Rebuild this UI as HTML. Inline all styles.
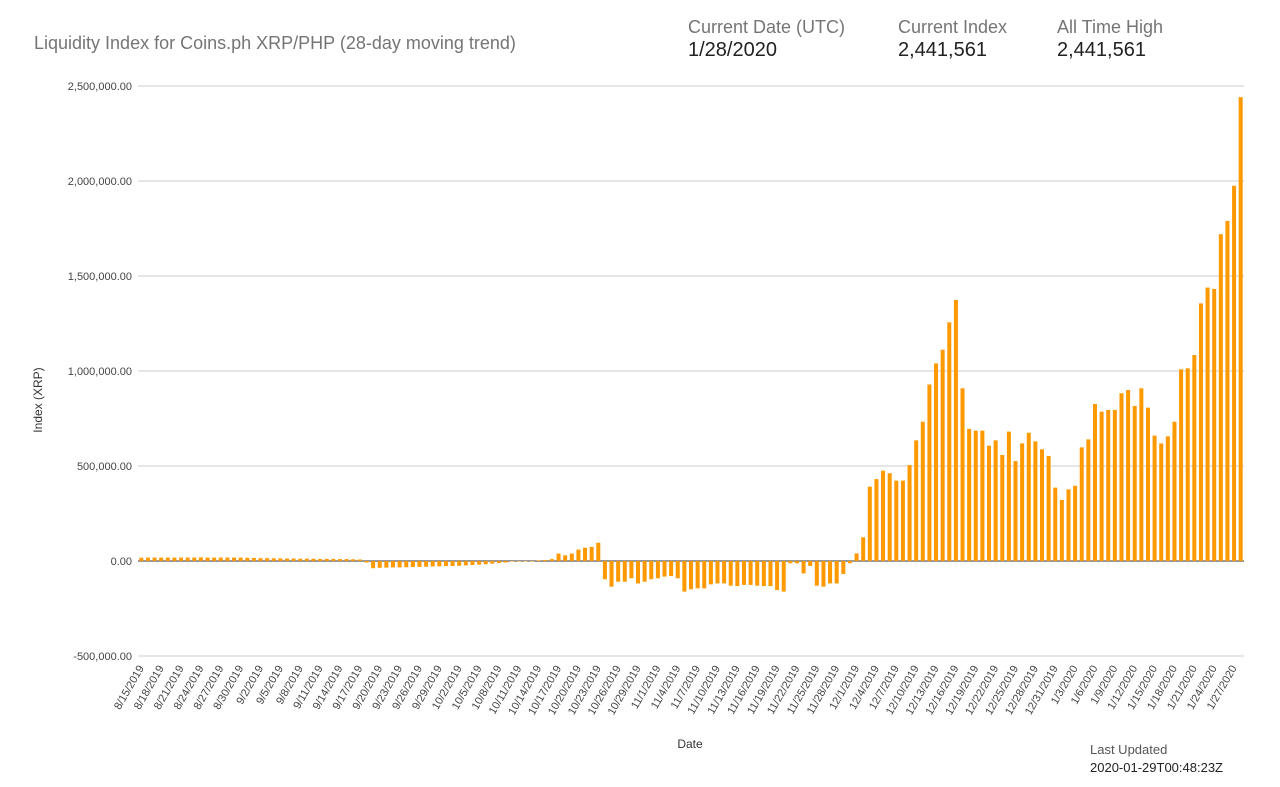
<!DOCTYPE html>
<html><head><meta charset="utf-8"><style>
body{margin:0;background:#fff;font-family:"Liberation Sans",Roboto,sans-serif;}
.t{position:absolute;white-space:nowrap}
</style></head><body>
<div style="position:relative;width:1280px;height:787px;overflow:hidden">
<div class="t" style="left:34px;top:33px;font-size:18px;color:#757575">Liquidity Index for Coins.ph XRP/PHP (28-day moving trend)</div>
<div class="t" style="left:688px;top:17px;font-size:18px;color:#757575">Current Date (UTC)</div>
<div class="t" style="left:688px;top:39px;font-size:20px;color:#222">1/28/2020</div>
<div class="t" style="left:898px;top:17px;font-size:18px;color:#757575">Current Index</div>
<div class="t" style="left:898px;top:39px;font-size:20px;color:#222">2,441,561</div>
<div class="t" style="left:1057px;top:17px;font-size:18px;color:#757575">All Time High</div>
<div class="t" style="left:1057px;top:39px;font-size:20px;color:#222">2,441,561</div>
<div class="t" style="left:1090px;top:742px;font-size:13px;color:#555">Last Updated</div>
<div class="t" style="left:1090px;top:760px;font-size:13px;color:#222">2020-01-29T00:48:23Z</div>
<svg id="chart" width="1280" height="787" style="position:absolute;left:0;top:0"></svg>
</div>
<script>
const yTicks=[-500000,0,500000,1000000,1500000,2000000,2500000];
const posK=[17,18,18,18,18,18,18,18,18,19,18,18,18,18,18,18,17,16,15,15,14,14,13,13,12,12,12,11,11,11,10,10,9,8];
const negK=[-8,-38,-36,-35,-34,-34,-33,-32,-31,-30,-29,-28,-27,-26,-25,-23,-21,-19,-17,-14,-11,-8];
const gapK=[0,0,0,0];
const octK=[3.5,5,10,39,30,39,60,70,74,96];
const novK=[-96,-135,-109,-109,-91,-118,-109,-96,-91,-82,-79,-91,-161,-149,-144,-144,-123,-118,-118,-130,-132,-126,-126,-130,-132,-132,-153,-161,-12,-12,-65,-26,-130,-135,-118,-118,-68,-12];
const decJanK=[40,125,391,431,475,462,423,423,505,635,733,929,1040,1112,1256,1374,909,695,686,686,607,635,558,681,526,619,675,630,588,553,386,321,377,396,598,640,826,786,795,795,883,900,816,909,807,660,619,656,733,1009,1014,1084,1356,1439,1432,1720,1790,1975,2441.561];
const values=[].concat(posK,negK,gapK,octK,novK,decJanK).map(v=>v*1000);
const startDate=new Date(2019,7,15);
const dates=values.map((v,i)=>{const d=new Date(startDate);d.setDate(d.getDate()+i);return (d.getMonth()+1)+'/'+d.getDate()+'/'+d.getFullYear();});

const svg=document.getElementById('chart');const NS='http://www.w3.org/2000/svg';
const X0=138,X1=1244,Y0=561,PX=95/500000;
const y=v=>Y0-v*PX;
const step=(X1-X0)/values.length;
const x=i=>X0+step*(i+0.5);
function mk(t,a,txt){const e=document.createElementNS(NS,t);for(const k in a)e.setAttribute(k,a[k]);if(txt!==undefined)e.textContent=txt;svg.appendChild(e);return e;}
yTicks.forEach(t=>{
 const g=mk('line',{x1:X0,x2:X1,y1:y(t),y2:y(t),stroke:t===0?'#333':'#ccc','stroke-width':1});
 
 
 const l=mk('text',{x:132,y:y(t)+4,'text-anchor':'end','font-size':11,fill:'#444','font-family':'Liberation Sans, sans-serif'},t.toLocaleString('en-US',{minimumFractionDigits:2}));
 
 
});
values.forEach((v,i)=>{
 const top=Math.min(y(v),Y0),h=Math.abs(y(v)-Y0);
 const b=mk('rect',{x:x(i)-2,y:top,width:4,height:Math.max(h,0.5),fill:'#ff9900'});
 
 
});
dates.forEach((d,i)=>{ if(i%3) return;
 const tx=x(i)+3,ty=668;
 const l=mk('text',{x:tx,y:ty,'text-anchor':'end','font-size':11,fill:'#444','font-family':'Liberation Sans, sans-serif',transform:`rotate(-60 ${tx} ${ty})`},d);
 
 
});
const xt=mk('text',{x:690,y:748,'text-anchor':'middle','font-size':12,fill:'#333','font-family':'Liberation Sans, sans-serif'},'Date');


const yt=mk('text',{x:42,y:400,'text-anchor':'middle','font-size':12,fill:'#333','font-family':'Liberation Sans, sans-serif',transform:'rotate(-90 42 400)'},'Index (XRP)');


</script>
</body></html>
